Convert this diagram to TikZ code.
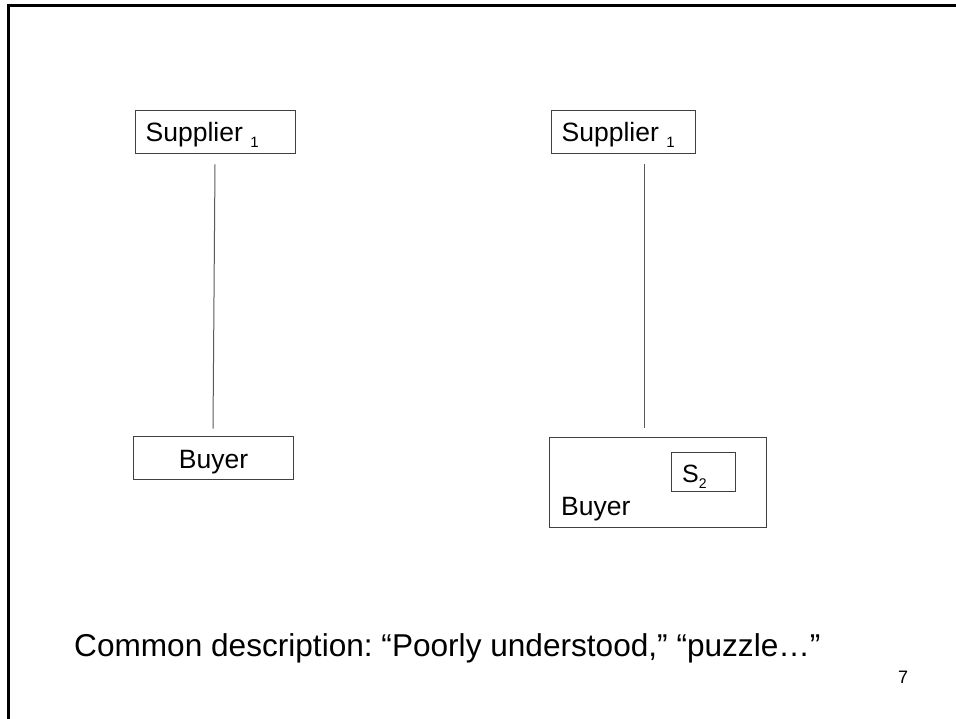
\documentclass[tikz,border=0pt]{standalone}
\usepackage{fontspec}
\setmainfont{Liberation Sans}
\frenchspacing
\tikzset{
  box/.style={draw=black!75, line width=0.8pt, inner sep=0pt, rectangle},
  conn/.style={draw=black!65, line width=1pt},
  lbl/.style={inner sep=0pt, anchor=base west, font=\fontsize{26.5}{30}\selectfont},
  frame/.style={line width=2.4pt, black}
}
\begin{document}
\begin{tikzpicture}[x=1pt,y=-1pt]
\useasboundingbox (0,0) rectangle (956,719);
% frame
\coordinate (fl) at (8.5,719);
\coordinate (fc) at (8.5,5.5);
\coordinate (fr) at (956,5.5);
\draw[frame] (fl) -- (fc) -- (fr);
% left diagram
\node[box, minimum width=160pt, minimum height=43pt] (s1) at (215,131.5) {};
\node[lbl] (s1t) at (145.5,142) {Supplier {\raisebox{-6pt}{\fontsize{15}{15}\selectfont 1}}};
\node[box, minimum width=160pt, minimum height=43pt] (b1) at (213,457.5) {};
\node[lbl, anchor=base] (b1t) at (213.5,468) {Buyer};
\draw[conn] ([yshift=-11pt]s1.south) -- ([yshift=7pt]b1.north);
% right diagram
\node[box, minimum width=144pt, minimum height=43pt] (s2) at (623,131.5) {};
\node[lbl] (s2t) at (561.5,142) {Supplier {\raisebox{-6pt}{\fontsize{15}{15}\selectfont 1}}};
\node[box, minimum width=217pt, minimum height=90pt] (b2) at (657.5,482) {};
\node[lbl] (b2t) at (561,515) {Buyer};
\node[box, minimum width=64pt, minimum height=39pt] (sub) at (703,471.5) {};
\node[inner sep=0pt, anchor=base west, font=\fontsize{25}{28}\selectfont] (subt) at (682,482) {S\raisebox{-6pt}{\fontsize{14}{14}\selectfont 2}};
\coordinate (r1) at (644,164);
\coordinate (r2) at (644,428);
\draw[conn] (r1) -- (r2);
% caption
\node[inner sep=0pt, anchor=base west, font=\fontsize{31.6}{36}\selectfont] (cap) at (74,656) {Common description: “Poorly understood,” “puzzle…”};
\node[inner sep=0pt, anchor=base west, font=\fontsize{18}{20}\selectfont] (pg) at (898,683) {7};
\end{tikzpicture}
\end{document}
